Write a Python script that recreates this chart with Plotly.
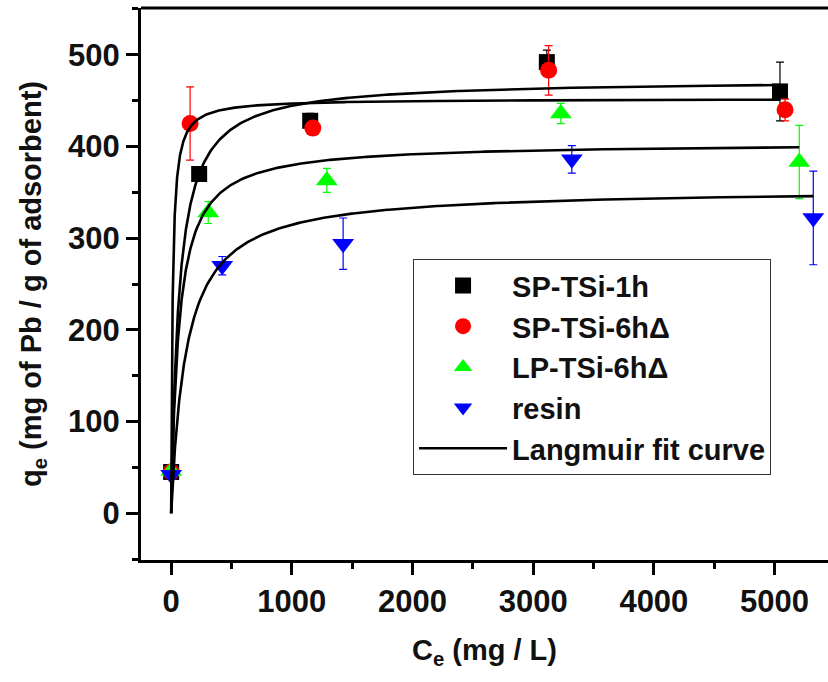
import numpy as np
import plotly.graph_objects as go

# ---- data ----
series_names = ["SP-TSi-1h", "SP-TSi-6h\u0394", "LP-TSi-6h\u0394", "resin"]
series_colors = ["#000000", "#ff0000", "#00ff00", "#0000ff"]
series_symbols = ["square", "circle", "triangle-up", "triangle-down"]

sp1h_x = [0, 232, 1152, 3113, 5045]
sp1h_y = [45, 370, 428, 492, 460]
sp1h_err = [3, 5, 8, 13, 32]

sp6h_x = [0, 157, 1174, 3128, 5087]
sp6h_y = [45, 425, 420, 483, 440]
sp6h_err = [3, 40, 6, 27, 12]

lp6h_x = [0, 307, 1290, 3229, 5205]
lp6h_y = [46, 328, 363, 436, 383]
lp6h_err = [3, 12, 13, 11, 40]

resin_x = [0, 423, 1425, 3320, 5321]
resin_y = [42, 270, 294, 386, 322]
resin_err = [3, 10, 28, 15, 51]

# Langmuir fit parameters (qm, K)
fit_qm = [473, 452, 404, 354]
fit_K = [0.0155, 0.0866, 0.0157, 0.0080]
fit_xmax = [5045, 5045, 5205, 5321]

x_ticks = [0, 1000, 2000, 3000, 4000, 5000]
y_ticks = [0, 100, 200, 300, 400, 500]

FONT = "Liberation Sans, Arial, Helvetica, sans-serif"

xs = [sp1h_x, sp6h_x, lp6h_x, resin_x]
ys = [sp1h_y, sp6h_y, lp6h_y, resin_y]
errs = [sp1h_err, sp6h_err, lp6h_err, resin_err]
sizes = [16, 17, 19, 19]

fig = go.Figure()
for name, c, sym, x, y, e, s in zip(series_names, series_colors, series_symbols, xs, ys, errs, sizes):
    fig.add_trace(go.Scatter(
        x=x, y=y, mode="markers", name=name,
        marker=dict(symbol=sym, color=c, size=s, line=dict(width=0)),
        error_y=dict(type="data", array=e, visible=True, color=c, thickness=1.2, width=4),
    ))

for i, (qm, K, xm) in enumerate(zip(fit_qm, fit_K, fit_xmax)):
    cx = np.concatenate([np.linspace(0, 200, 201), np.linspace(200, xm, 400)])
    cy = qm * K * cx / (1 + K * cx)
    fig.add_trace(go.Scatter(
        x=cx, y=cy, mode="lines", name="Langmuir fit curve",
        line=dict(color="black", width=2.6),
        showlegend=(i == 0), hoverinfo="skip",
    ))

axis_common = dict(
    showline=True, linecolor="black", linewidth=3, mirror=False,
    ticks="outside", tickcolor="black", tickwidth=2.5, ticklen=12,
    showgrid=False, zeroline=False,
    tickfont=dict(family=FONT, size=31, color="#111", weight="bold"),
)

fig.update_layout(
    width=828, height=682,
    margin=dict(l=141, r=0, t=8, b=122),
    paper_bgcolor="white", plot_bgcolor="white",
    showlegend=True,
    legend=dict(
        x=0.396, y=0.545, xanchor="left", yanchor="top",
        bgcolor="white", bordercolor="#333", borderwidth=1,
        font=dict(family=FONT, size=29, color="#111", weight="bold"),
        itemwidth=88, tracegroupgap=0,
    ),
    xaxis=dict(
        range=[-250, 5443], tickvals=x_ticks,
        minor=dict(ticks="outside", dtick=500, ticklen=6, tickwidth=2.5, tickcolor="black"),
        title=dict(text="C<sub>e</sub> (mg / L)", font=dict(family=FONT, size=29, color="#111", weight="bold"), standoff=22),
        **axis_common,
    ),
    yaxis=dict(
        range=[-51, 551], tickvals=y_ticks,
        minor=dict(ticks="outside", dtick=50, ticklen=6, tickwidth=2.5, tickcolor="black"),
        title=dict(text="q<sub>e</sub> (mg of Pb / g of adsorbent)", font=dict(family=FONT, size=29, color="#111", weight="bold"), standoff=18),
        **axis_common,
    ),
    shapes=[dict(type="line", xref="paper", yref="paper", x0=0, x1=1, y0=1, y1=1,
                 line=dict(color="black", width=3))],
)

fig.write_html("out.html")
